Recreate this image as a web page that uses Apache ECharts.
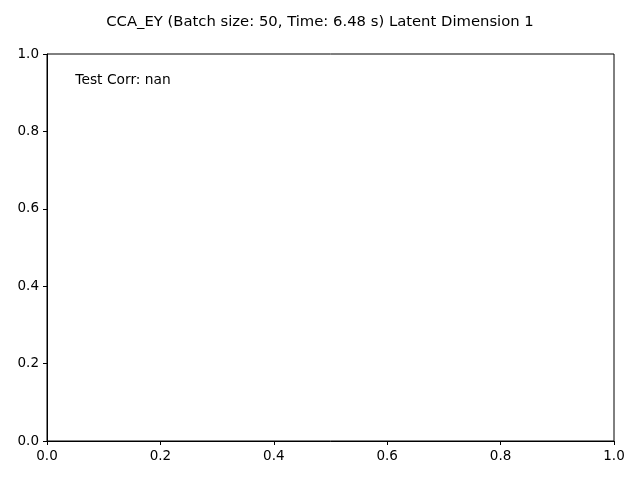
<!DOCTYPE html>
<html><head><meta charset="utf-8">
<script src="https://cdn.jsdelivr.net/npm/echarts@6/dist/echarts.min.js"></script>
<style>html,body{margin:0;padding:0;background:#fff}#c{width:640px;height:480px}</style>
</head><body><div id="c"></div>
<script>
const titleText = "CCA_EY (Batch size: 50, Time: 6.48 s) Latent Dimension 1";
const annotation = "Test Corr: nan";
const xRange = [0, 1];
const yRange = [0, 1];
const tickStep = 0.2;
const points = []; // no data drawn (correlation is nan)

const chart = echarts.init(document.getElementById('c'), null, {renderer: 'canvas'});
const font = "DejaVu Sans";
const axisCommon = {
  interval: tickStep,
  axisLine: {show: true, onZero: false, lineStyle: {color: '#000', width: 1}},
  axisTick: {show: true, length: 4, inside: false, lineStyle: {color: '#000'}},
  axisLabel: {color: '#000', fontFamily: font, fontSize: 13.5, margin: 8, formatter: v => v.toFixed(1)},
  splitLine: {show: false}
};
chart.setOption({
  animation: false,
  title: {text: titleText, left: 'center', top: 10, textStyle: {fontFamily: font, fontSize: 14.8, fontWeight: 'normal', color: '#000'}},
  grid: {left: 47, top: 54, right: 26, bottom: 39, show: true, borderColor: '#000', borderWidth: 1, containLabel: false},
  xAxis: Object.assign({type: 'value', min: xRange[0], max: xRange[1]}, axisCommon),
  yAxis: Object.assign({type: 'value', min: yRange[0], max: yRange[1]}, axisCommon),
  series: [{type: 'scatter', data: points,
    markPoint: {symbol: 'circle', symbolSize: 0,
      data: [{coord: [0.05, 0.95], value: annotation}],
      label: {show: true, formatter: annotation, position: 'right', offset: [-5, 7], color: '#000', fontFamily: font, fontSize: 13.8}}}]
});
</script></body></html>
